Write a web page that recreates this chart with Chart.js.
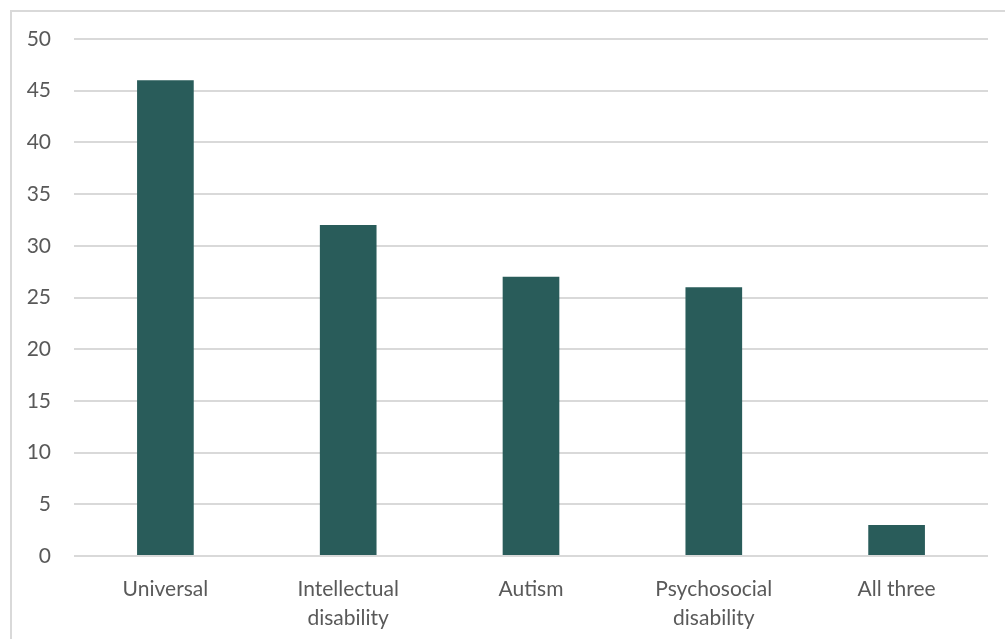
<!doctype html>
<html lang="en">

<head>
    <meta charset="utf-8">
    <title>Bar chart</title>
    <style>
        html, body { margin: 0; padding: 0; background: #fff; overflow: hidden; }
        #wrap { position: relative; width: 1005px; height: 639px; }
        #frame { position: absolute; left: 10px; top: 10px; width: 1100px; height: 700px;
                 border: 2px solid #d9d9d9; box-sizing: border-box; pointer-events: none; }
        canvas { position: absolute; left: 0; top: 0; }
    </style>
</head>

<body>
    <div id="wrap">
        <div id="frame"></div>
        <canvas id="myChart" width="1005" height="639"></canvas>
    </div>

    <script src="https://cdn.jsdelivr.net/npm/chart.js@4.3.0/dist/chart.umd.min.js"></script>
    <script>
        const categories = [["Universal"], ["Intellectual", "disability"], ["Autism"], ["Psychosocial", "disability"], ["All three"]];
        const values = [46, 32, 27, 26, 3];
        const yTicks = [0, 5, 10, 15, 20, 25, 30, 35, 40, 45, 50];

        const font = { family: "Lato, 'Open Sans', sans-serif", size: 21, lineHeight: 1.38 };

        const config = {
            type: 'bar',
            data: {
                labels: categories,
                datasets: [{
                    data: values,
                    backgroundColor: '#295c5a',
                    barPercentage: 0.31,
                    categoryPercentage: 1.0
                }]
            },
            options: {
                responsive: false,
                animation: false,
                layout: { padding: { left: 0, right: 17, top: 39, bottom: 0 } },
                plugins: { legend: { display: false }, tooltip: { enabled: false } },
                scales: {
                    x: {
                        grid: { display: false, drawTicks: false },
                        border: { display: false },
                        ticks: { color: '#595959', font: font, padding: 19, maxRotation: 0 },
                        afterFit: s => { s.height = 83; }
                    },
                    y: {
                        min: 0,
                        max: 50,
                        afterBuildTicks: s => { s.ticks = yTicks.map(v => ({ value: v })); },
                        grid: { color: '#d9d9d9', lineWidth: 2, drawTicks: false },
                        border: { display: false },
                        ticks: { color: '#595959', font: font, padding: 23 },
                        afterFit: s => { s.width = 74; }
                    }
                }
            }
        };

        new Chart(document.getElementById('myChart'), config);
    </script>
</body>

</html>
